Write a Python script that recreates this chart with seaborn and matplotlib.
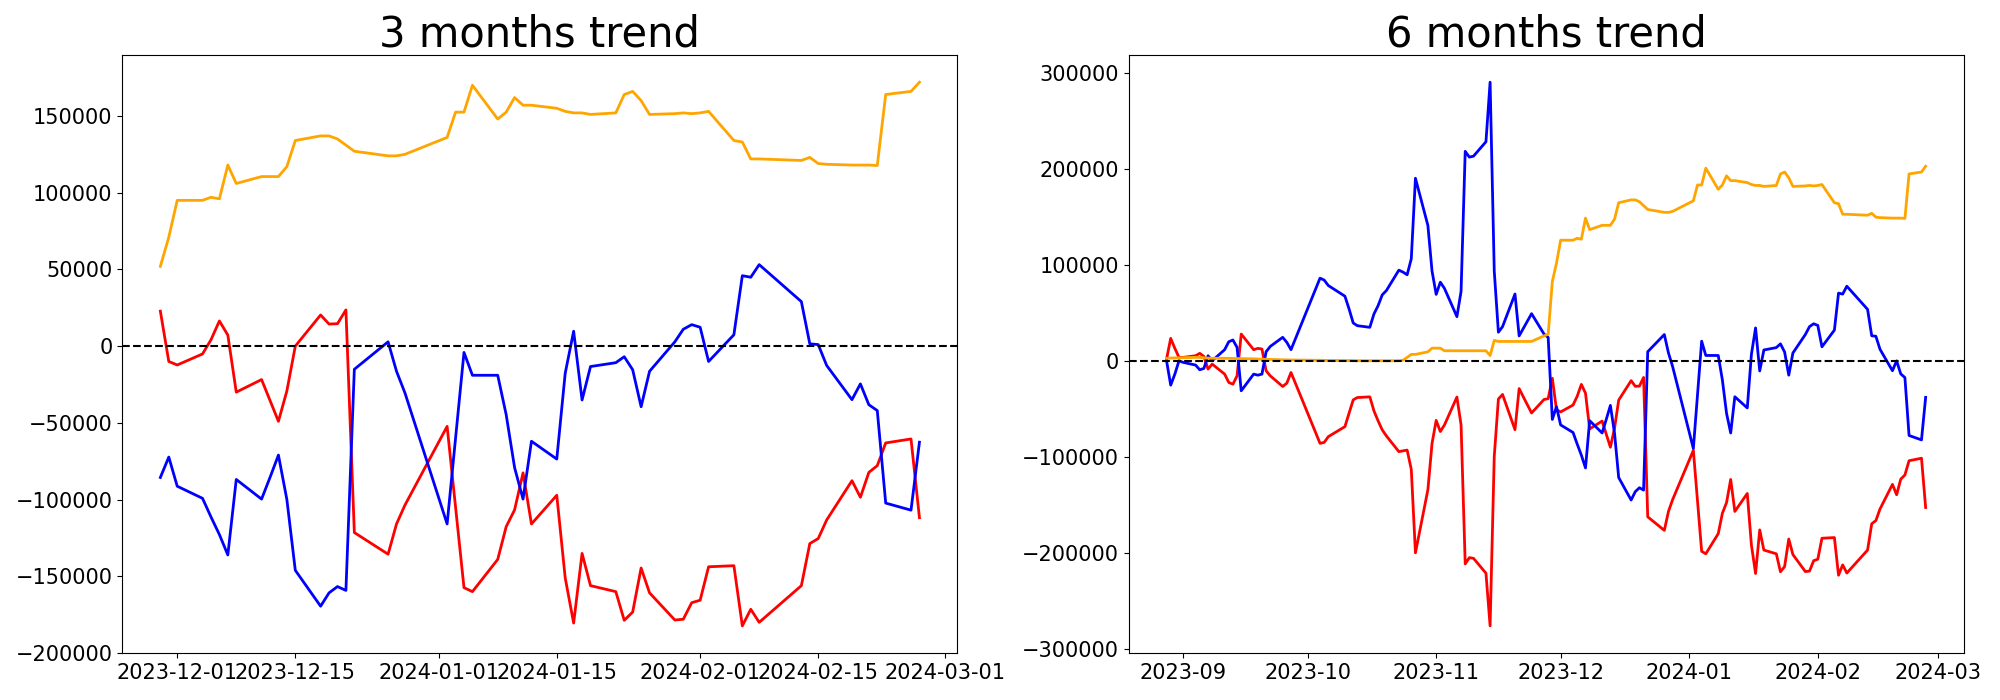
import matplotlib
matplotlib.use("Agg")
import matplotlib.pyplot as plt
import matplotlib.dates as mdates
import pandas as pd
import seaborn as sns

# ---------------- data: 3 months ----------------
dates_3m = ["2023-11-29", "2023-11-30", "2023-12-01", "2023-12-04", "2023-12-05", "2023-12-06",
            "2023-12-07", "2023-12-08", "2023-12-11", "2023-12-12", "2023-12-13", "2023-12-14",
            "2023-12-15", "2023-12-18", "2023-12-19", "2023-12-20", "2023-12-21", "2023-12-22",
            "2023-12-26", "2023-12-27", "2023-12-28", "2024-01-02", "2024-01-03", "2024-01-04",
            "2024-01-05", "2024-01-08", "2024-01-09", "2024-01-10", "2024-01-11", "2024-01-12",
            "2024-01-15", "2024-01-16", "2024-01-17", "2024-01-18", "2024-01-19", "2024-01-22",
            "2024-01-23", "2024-01-24", "2024-01-25", "2024-01-26", "2024-01-29", "2024-01-30",
            "2024-01-31", "2024-02-01", "2024-02-02", "2024-02-05", "2024-02-06", "2024-02-07",
            "2024-02-08", "2024-02-13", "2024-02-14", "2024-02-15", "2024-02-16", "2024-02-19",
            "2024-02-20", "2024-02-21", "2024-02-22", "2024-02-23", "2024-02-26", "2024-02-27"]

orange_3m = [52000, 71000, 95000, 95000, 97000, 96000, 118000, 106000, 110500, 110500,
             110500, 117000, 134000, 137000, 137000, 135000, 131000, 127000, 124000, 124000,
             125000, 136000, 152500, 152500, 170000, 148000, 152500, 162000, 157000, 157000,
             155000, 153000, 152000, 152000, 151000, 152000, 164000, 166000, 160000, 151000,
             151500, 152000, 151500, 152000, 153000, 134000, 133000, 122000, 122000, 121000,
             123000, 119000, 118500, 118000, 118000, 118000, 117700, 164000, 166000, 172000]

red_3m = [22800, -10000, -12300, -5100, 4100, 16400, 7200, -30000, -21800, -35400,
          -49000, -29200, 0, 20300, 14400, 14600, 23600, -121500, -135600, -115900,
          -103600, -52300, -104900, -157400, -160000, -139000, -117700, -106700, -82600, -115900,
          -97200, -151000, -180500, -135100, -156100, -160000, -178700, -173300, -144600, -160800,
          -178500, -178000, -167200, -165600, -143800, -143100, -182300, -171500, -180000, -156100,
          -128700, -125400, -113300, -87700, -98500, -82300, -77900, -63100, -60500, -111800]

blue_3m = [-85600, -72300, -91300, -99200, -111300, -122800, -136100, -86900, -99700, -85600,
           -71000, -100000, -146100, -169500, -160800, -156700, -159200, -15100, 2800, -16400,
           -30500, -115900, -60000, -4100, -19000, -19000, -44600, -79200, -99700, -62000,
           -73600, -17700, 9700, -35100, -13300, -10800, -6900, -15400, -39500, -16400,
           2800, 11000, 14000, 12300, -10000, 7400, 45900, 44900, 53100, 29000,
           1500, 1000, -12600, -34900, -24600, -38200, -42000, -102300, -106900, -62600]

# ---------------- data: 6 months ----------------
dates_6m_early = ["2023-08-28", "2023-08-29", "2023-08-30", "2023-08-31", "2023-09-01",
                  "2023-09-04", "2023-09-05", "2023-09-06", "2023-09-07", "2023-09-08",
                  "2023-09-11", "2023-09-12", "2023-09-13", "2023-09-14", "2023-09-15",
                  "2023-09-18", "2023-09-19", "2023-09-20", "2023-09-21", "2023-09-22",
                  "2023-09-25", "2023-09-26", "2023-09-27", "2023-10-04", "2023-10-05",
                  "2023-10-06", "2023-10-10", "2023-10-11", "2023-10-12", "2023-10-13",
                  "2023-10-16", "2023-10-17", "2023-10-18", "2023-10-19", "2023-10-20",
                  "2023-10-23", "2023-10-24", "2023-10-25", "2023-10-26", "2023-10-27",
                  "2023-10-30", "2023-10-31", "2023-11-01", "2023-11-02", "2023-11-03",
                  "2023-11-06", "2023-11-07", "2023-11-08", "2023-11-09", "2023-11-10",
                  "2023-11-13", "2023-11-14", "2023-11-15", "2023-11-16", "2023-11-17",
                  "2023-11-20", "2023-11-21", "2023-11-22", "2023-11-23", "2023-11-24",
                  "2023-11-27", "2023-11-28"]
dates_6m = dates_6m_early + dates_3m

orange_6m = [2500, 2800, 3000, 3000, 3200, 3500, 3500, 3000, 2800, 2600,
             2500, 2500, 2400, 2300, 2200, 2000, 1800, 1700, 1500, 1400,
             1000, 900, 800, 500, 400, 300, 200, 200, 100, 0,
             0, 0, 0, 0, 0, 0, 500, 3500, 6600, 6600,
             9300, 13100, 13100, 13100, 10400, 10400, 10400, 10400, 10400, 10400,
             10400, 5400, 21200, 20100, 20100, 20100, 20100, 20100, 20100, 20100,
             25900, 27500,
             82500, 101500, 125500, 125500, 127500, 126500, 148500, 136500, 141000, 141000,
             141000, 147500, 164500, 167500, 167500, 165500, 161500, 157500, 154500, 154500,
             155500, 166500, 183000, 183000, 200500, 178500, 183000, 192500, 187500, 187500,
             185500, 183500, 182500, 182500, 181500, 182500, 194500, 196500, 190500, 181500,
             182000, 182500, 182000, 182500, 183500, 164500, 163500, 152500, 152500, 151500,
             153500, 149500, 149000, 148500, 148500, 148500, 148200, 194500, 196500, 202500]

red_6m = [1700, 23300, 12900, 3500, 3500, 5200, 7700, 4500, -8700, -3500,
          -13900, -22600, -24400, -15700, 27800, 11500, 12900, 12200, -10400, -15700,
          -26800, -23300, -12200, -86000, -85000, -79000, -68600, -54600, -40700, -38300,
          -37600, -52200, -62600, -72000, -78300, -94600, -93800, -93000, -113100, -200000,
          -134300, -86100, -62100, -73700, -66800, -37800, -66800, -211500, -205000, -205700,
          -221200, -276000, -99600, -39800, -35100, -71800, -29000, -37500, -46000, -54400,
          -40300, -39500,
          -18200, -51000, -53300, -46100, -36900, -24600, -33800, -71000, -62800, -76400,
          -90000, -70200, -41000, -20700, -26600, -26400, -17400, -162500, -176600, -156900,
          -144600, -93300, -145900, -198400, -201000, -180000, -158700, -147700, -123600, -156900,
          -138200, -192000, -221500, -176100, -197100, -201000, -219700, -214300, -185600, -201800,
          -219500, -219000, -208200, -206600, -184800, -184100, -223300, -212500, -221000, -197100,
          -169700, -166400, -154300, -128700, -139500, -123300, -118900, -104100, -101500, -152800]

blue_6m = [0, -25400, -13900, 0, -1700, -4500, -9400, -8000, 5200, 0,
           11500, 19800, 21600, 13900, -31300, -13900, -15000, -13900, 9400, 14900,
           24400, 19100, 11500, 86000, 84000, 78300, 67200, 53900, 39300, 36500,
           34800, 48700, 57400, 68600, 73100, 94300, 92300, 89500, 106200, 190000,
           140900, 93400, 69100, 81800, 75300, 45900, 72200, 218000, 212000, 213000,
           228000, 290000, 93400, 29700, 35500, 69500, 25900, 33600, 41300, 49000,
           27800, 24300,
           -61100, -47800, -66800, -74700, -86800, -98300, -111600, -62400, -75200, -61100,
           -46500, -75500, -121600, -145000, -136300, -132200, -134700, 9400, 27300, 8100,
           -6000, -91400, -35500, 20400, 5500, 5500, -20100, -54700, -75200, -37500,
           -49100, 6800, 34200, -10600, 11200, 13700, 17600, 9100, -15000, 8100,
           27300, 35500, 38500, 36800, 14500, 31900, 70400, 69400, 77600, 53500,
           26000, 25500, 11900, -10400, -100, -13700, -17500, -77800, -82400, -38100]

series_order = ["red", "blue", "orange"]
palette = {"red": "red", "blue": "blue", "orange": "orange"}


def to_long(dates, red, blue, orange):
    d = pd.to_datetime(pd.Series(dates))
    frames = []
    for name, vals in zip(series_order, [red, blue, orange]):
        frames.append(pd.DataFrame({"date": d, "value": vals, "series": name}))
    return pd.concat(frames, ignore_index=True)


df3 = to_long(dates_3m, red_3m, blue_3m, orange_3m)
df6 = to_long(dates_6m, red_6m, blue_6m, orange_6m)

fig = plt.figure(figsize=(20, 7), dpi=100)
ax1 = fig.add_axes([0.0612, 0.0671, 0.4175, 0.8543])
ax2 = fig.add_axes([0.5643, 0.0671, 0.4175, 0.8543])

for ax, df, title in [(ax1, df3, "3 months trend"), (ax2, df6, "6 months trend")]:
    sns.lineplot(data=df, x="date", y="value", hue="series", hue_order=series_order,
                 palette=palette, linewidth=2.0, legend=False, estimator=None, ax=ax)
    ax.axhline(0, color="black", linestyle="--", linewidth=1.5)
    ax.set_title(title, fontsize=30)
    ax.set_xlabel("")
    ax.set_ylabel("")
    ax.tick_params(labelsize=15)

ax1.xaxis.set_major_locator(mdates.DayLocator(bymonthday=[1, 15]))
ax1.xaxis.set_major_formatter(mdates.DateFormatter("%Y-%m-%d"))
ax2.xaxis.set_major_locator(mdates.MonthLocator())
ax2.xaxis.set_major_formatter(mdates.DateFormatter("%Y-%m"))

fig.savefig("out.png", dpi=100)
